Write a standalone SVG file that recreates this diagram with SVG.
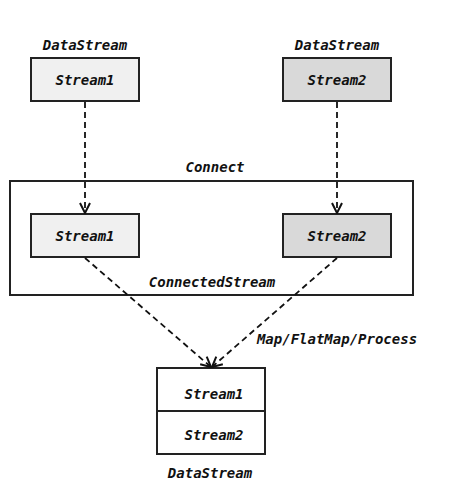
<svg xmlns="http://www.w3.org/2000/svg" width="461" height="498" viewBox="0 0 461 498">
<style>
text{font-family:"DejaVu Sans Mono","Liberation Mono",monospace;font-weight:bold;font-style:italic;font-size:14px;fill:#111;text-anchor:middle;dominant-baseline:central}
.box{stroke:#222;stroke-width:2}
.c{fill:none;stroke:#111;stroke-width:1.8;stroke-dasharray:6,4}
</style>
<defs>
<marker id="ah" viewBox="0 0 12 12" refX="11" refY="6" markerWidth="12" markerHeight="12" markerUnits="userSpaceOnUse" orient="auto">
<path d="M1,1 L11,6 L1,11" fill="none" stroke="#111" stroke-width="2"/>
</marker>
</defs>
<rect x="0" y="0" width="461" height="498" fill="#fff"/>
<g id="connect">
<rect x="10" y="181" width="403" height="114" fill="#fff" class="box"/>
<text x="215" y="167">Connect</text>
<text x="212" y="282">ConnectedStream</text>
</g>
<g id="src1">
<text x="85" y="45">DataStream</text>
<rect x="31" y="58" width="108" height="43" fill="#f0f0f0" class="box"/>
<text x="85" y="80">Stream1</text>
</g>
<g id="src2">
<text x="337" y="45">DataStream</text>
<rect x="283" y="58" width="108" height="43" fill="#d9d9d9" class="box"/>
<text x="337" y="80">Stream2</text>
</g>
<g id="cs1">
<rect x="31" y="214" width="108" height="43" fill="#f0f0f0" class="box"/>
<text x="85" y="236">Stream1</text>
</g>
<g id="cs2">
<rect x="283" y="214" width="108" height="43" fill="#d9d9d9" class="box"/>
<text x="337" y="236">Stream2</text>
</g>
<g id="result">
<rect x="157" y="368" width="108" height="86" fill="#fff" class="box"/>
<line x1="157" y1="411" x2="265" y2="411" class="box"/>
<text x="214" y="394">Stream1</text>
<text x="214" y="435">Stream2</text>
<text x="210" y="473">DataStream</text>
</g>
<g id="connectors">
<line x1="85" y1="102" x2="85" y2="213" class="c" marker-end="url(#ah)"/>
<line x1="337" y1="102" x2="337" y2="213" class="c" marker-end="url(#ah)"/>
<line x1="85" y1="258" x2="211" y2="367" class="c" marker-end="url(#ah)"/>
<line x1="337" y1="258" x2="212" y2="367" class="c" marker-end="url(#ah)"/>
<text x="337" y="339">Map/FlatMap/Process</text>
</g>
</svg>
